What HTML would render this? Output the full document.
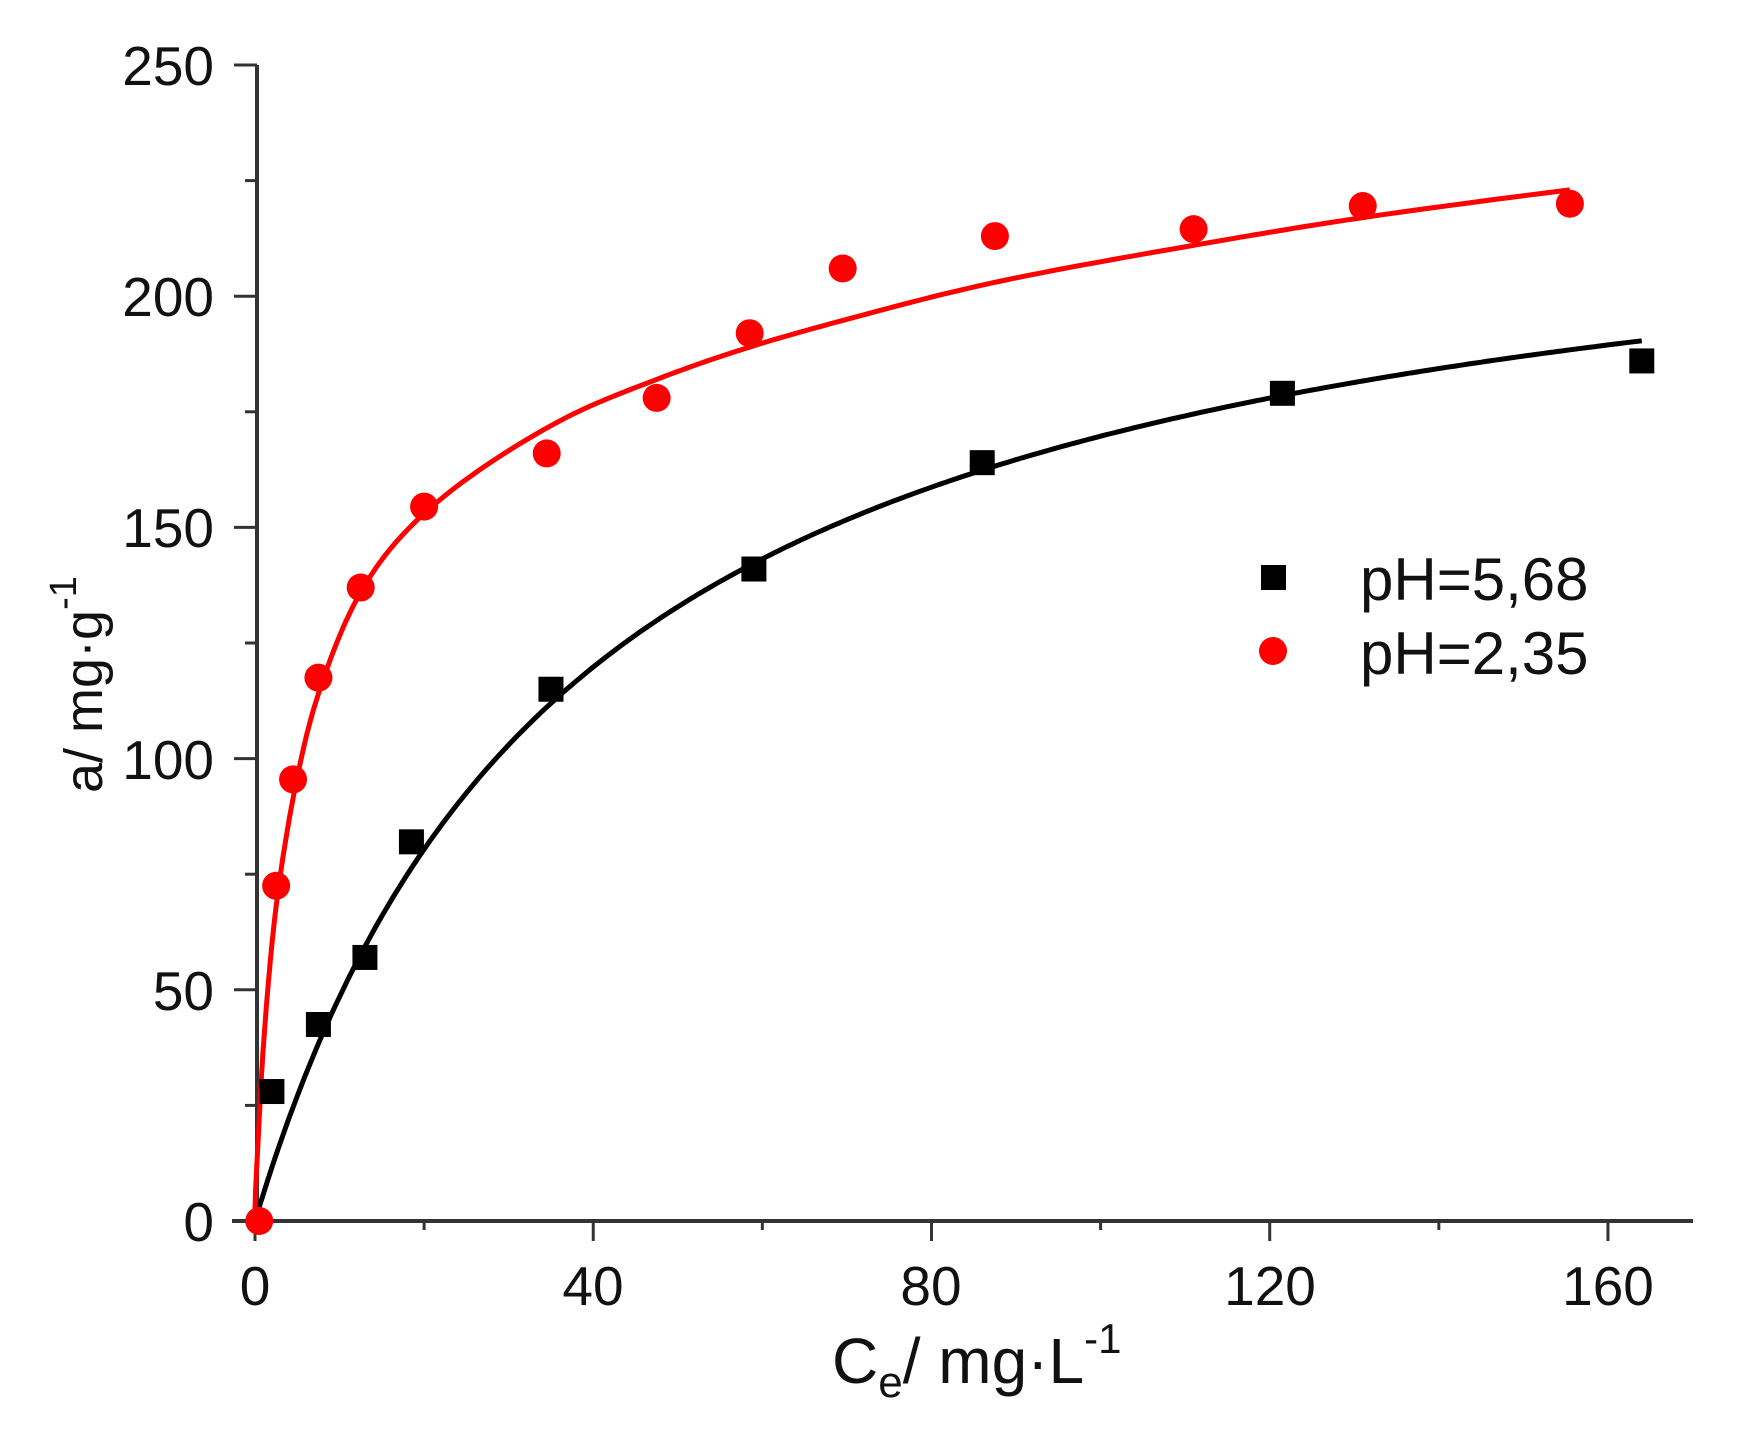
<!DOCTYPE html>
<html><head><meta charset="utf-8"><style>html,body{margin:0;padding:0;background:#fff}svg{display:block}</style></head>
<body>
<svg id="s" width="1761" height="1446" viewBox="0 0 1761 1446" xmlns="http://www.w3.org/2000/svg" font-family="Liberation Sans, sans-serif">
<rect width="1761" height="1446" fill="#fff"/>
<g id="axes" stroke="#333" stroke-width="4" fill="none">
<line x1="257" y1="65" x2="257" y2="1223"/>
<line x1="232" y1="1221" x2="1693" y2="1221"/>
</g>
<g id="ticks" stroke="#333" stroke-width="3"></g>
<g font-size="55" fill="#111" text-anchor="end">
<text x="214" y="85">250</text>
<text x="214" y="316">200</text>
<text x="214" y="547">150</text>
<text x="214" y="779">100</text>
<text x="214" y="1010">50</text>
<text x="214" y="1241">0</text>
</g>
<g font-size="55" fill="#111" text-anchor="middle">
<text x="255" y="1305">0</text>
<text x="593" y="1305">40</text>
<text x="931" y="1305">80</text>
<text x="1270" y="1305">120</text>
<text x="1608" y="1305">160</text>
</g>
<text x="832" y="1383" font-size="64" fill="#111">C<tspan font-size="44" dy="14">e</tspan><tspan dy="-14">/ mg·L</tspan><tspan font-size="42" dy="-30">-1</tspan></text>
<text transform="translate(102,793) rotate(-90)" font-size="54" fill="#111">a/ mg·g<tspan font-size="38" dy="-26">-1</tspan></text>
<path id="cb" fill="none" stroke="#000" stroke-width="5"/>
<path id="cr" fill="none" stroke="#f00" stroke-width="5"/>
<g id="pts"></g>
<rect x="1261" y="565" width="25" height="25" fill="#000"/>
<circle cx="1273" cy="651" r="14" fill="#f00"/>
<text x="1360" y="600" font-size="60" fill="#111">pH=5,68</text>
<text x="1360" y="674" font-size="60" fill="#111">pH=2,35</text>
</svg>
<script>
var X=function(c){return 255+c*8.456},Y=function(v){return 1221-v*4.624};
var t='';
for(var v=0;v<=250;v+=25){var y=Y(v),L=(v%50==0)?23:12;t+='<line x1="'+(257-L)+'" y1="'+y+'" x2="257" y2="'+y+'"/>';}
for(var c=0;c<=160;c+=20){var x=X(c),L=(c%40==0)?20:9;t+='<line x1="'+x+'" y1="1221" x2="'+x+'" y2="'+(1221+L)+'"/>';}
document.getElementById('ticks').innerHTML=t;
var d='';
for(var c=0;c<=164.4;c+=0.5){var q=235*0.026*c/(1+0.026*c);d+=(c?'L':'M')+X(c).toFixed(1)+','+Y(q).toFixed(1);}
document.getElementById('cb').setAttribute('d',d);
var rp=[[0,0],[0.3,15],[1,38],[2.5,68],[5,96],[7.5,114],[12.5,136],[20,153],[35,172],[47.5,182],[58.5,189],[70,195],[87.5,203],[111,211],[131,217],[155.5,223]];
var P=rp.map(function(p){return [Math.sqrt(p[0]),p[1]];});
var s='';var first=true;
for(var i=0;i<P.length-1;i++){var a=P[Math.max(0,i-1)],b=P[i],c2=P[i+1],e=P[Math.min(P.length-1,i+2)];
for(var k=0;k<=20;k++){var u=k/20,u2=u*u,u3=u2*u;
function cm(p0,p1,p2,p3){return 0.5*((2*p1)+(-p0+p2)*u+(2*p0-5*p1+4*p2-p3)*u2+(-p0+3*p1-3*p2+p3)*u3);}
var sx=cm(a[0],b[0],c2[0],e[0]),sy=cm(a[1],b[1],c2[1],e[1]);
s+=(first?'M':'L')+X(sx*sx).toFixed(1)+','+Y(sy).toFixed(1);first=false;}}
document.getElementById('cr').setAttribute('d',s);
var B=[[2,28],[7.5,42.5],[13,57],[18.5,82],[35,115],[59,141],[86,164],[121.5,179],[164,186]];
var R=[[0.5,0],[2.5,72.5],[4.5,95.5],[7.5,117.5],[12.5,137],[20,154.5],[34.5,166],[47.5,178],[58.5,192],[69.5,206],[87.5,213],[111,214.5],[131,219.5],[155.5,220]];
var g='';
B.forEach(function(p){g+='<rect x="'+(X(p[0])-12.5)+'" y="'+(Y(p[1])-12.5)+'" width="25" height="25" fill="#000"/>';});
R.forEach(function(p){g+='<circle cx="'+X(p[0])+'" cy="'+Y(p[1])+'" r="14" fill="#f00"/>';});
document.getElementById('pts').innerHTML=g;
</script>
</body></html>
